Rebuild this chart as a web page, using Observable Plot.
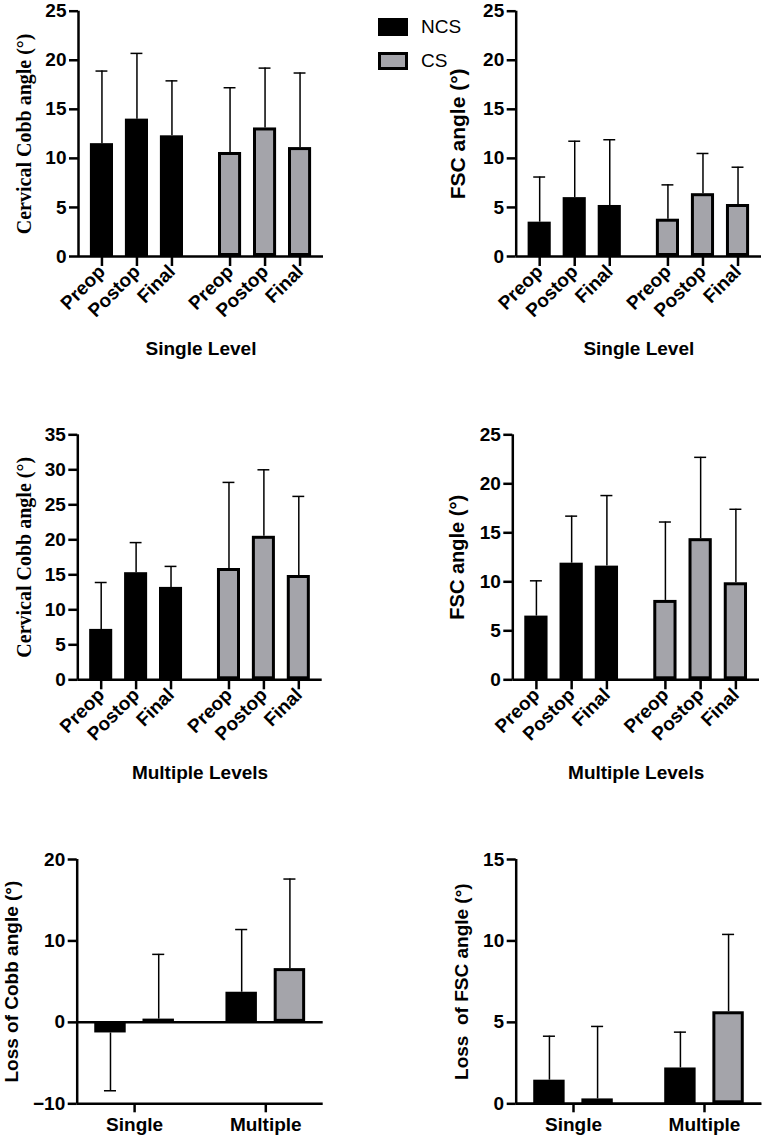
<!DOCTYPE html>
<html><head><meta charset="utf-8">
<script src="https://cdn.jsdelivr.net/npm/d3@7"></script>
<script src="https://cdn.jsdelivr.net/npm/@observablehq/plot@0.6"></script>
<style>
body{margin:0;background:#fff;}
#root{position:relative;width:766px;height:1141px;overflow:hidden;font-family:"Liberation Sans",Arial,sans-serif;}
.panel{position:absolute;}
.sw{position:absolute;box-sizing:border-box;}
.lg{position:absolute;font-size:19px;line-height:20px;color:#000;font-family:"Liberation Sans",Arial,sans-serif;}
</style></head><body><div id="root"></div>
<script>
// ---- data ----
const phases = ["Preop", "Postop", "Final"];
const groups = ["NCS", "CS"];
const levels = ["Single", "Multiple"];

// order: NCS Preop, Postop, Final, CS Preop, Postop, Final
const cobbSingleMean = [11.5, 14.0, 12.3, 10.6, 13.1, 11.1];
const cobbSingleSD   = [7.4, 6.7, 5.6, 6.6, 6.1, 7.6];
const fscSingleMean  = [3.5, 6.0, 5.2, 3.8, 6.4, 5.3];
const fscSingleSD    = [4.6, 5.75, 6.7, 3.5, 4.1, 3.8];
const cobbMultiMean  = [7.2, 15.3, 13.2, 15.9, 20.5, 14.9];
const cobbMultiSD    = [6.7, 4.3, 3.0, 12.3, 9.5, 11.3];
const fscMultiMean   = [6.5, 11.9, 11.6, 8.1, 14.4, 9.9];
const fscMultiSD     = [3.6, 4.8, 7.2, 8.0, 8.3, 7.5];

// loss: per level [Single, Multiple]
const lossCobbNCS = [-1.3, 3.7];
const lossCobbNCSSD = [7.1, 7.7];
const lossCobbCS = [0.4, 6.6];
const lossCobbCSSD = [7.95, 11.0];
const lossFscNCS = [1.45, 2.2];
const lossFscNCSSD = [2.7, 2.2];
const lossFscCS = [0.3, 5.65];
const lossFscCSSD = [4.45, 4.75];

// ---- style ----
const GRAY = "#a4a4aa";
const SANS = "'Liberation Sans', Arial, sans-serif";
const SERIF = "'Liberation Serif', 'Times New Roman', serif";
const AXW = 2.5;
const TFS = 19;

const root = document.getElementById("root");

function place(svg, left, top) {
  const wrap = document.createElement("div");
  wrap.className = "panel";
  wrap.style.left = left + "px";
  wrap.style.top = top + "px";
  wrap.appendChild(svg);
  root.appendChild(wrap);
}

function baseStyle() {
  return {fontFamily: SANS, color: "black", background: "transparent", overflow: "visible"};
}

function groupedPanel(o) {
  const GAP = 0.66, HALF = 0.33, CAP = 0.17;
  const rows = o.means.map((m, k) => {
    const g = Math.floor(k / phases.length), i = k % phases.length;
    return {group: groups[g], phase: phases[i], pos: g * (phases.length + GAP) + i, mean: m, top: m + o.sds[k]};
  });
  const xd = [-0.67, (groups.length - 1) * (phases.length + GAP) + phases.length - 1 + 0.67];
  const ncs = rows.filter(d => d.group === "NCS"), cs = rows.filter(d => d.group === "CS");
  return Plot.plot({
    width: o.width, height: o.height,
    marginLeft: o.ml, marginRight: o.mr, marginTop: o.mt, marginBottom: o.mb,
    style: baseStyle(),
    x: {type: "linear", domain: xd},
    y: {domain: [0, o.yMax]},
    marks: [
      Plot.ruleX(rows, {x: "pos", y1: "mean", y2: "top", strokeWidth: 1.5}),
      Plot.ruleY(rows, {y: "top", x1: d => d.pos - CAP, x2: d => d.pos + CAP, strokeWidth: 1.5}),
      Plot.rect(ncs, {x1: d => d.pos - HALF, x2: d => d.pos + HALF, y1: 0, y2: "mean", fill: "black"}),
      Plot.rect(cs, {x1: d => d.pos - HALF, x2: d => d.pos + HALF, y1: 0, y2: "mean", fill: GRAY, stroke: "black", strokeWidth: 3, inset: 1.5}),
      Plot.ruleY([0], {strokeWidth: AXW}),
      Plot.ruleX([xd[0]], {y1: 0, y2: o.yMax, strokeWidth: AXW}),
      Plot.axisY({ticks: d3.range(0, o.yMax + 0.001, o.step), tickSize: 9, tickPadding: 3, fontSize: TFS, fontWeight: "bold", strokeWidth: AXW, label: null}),
      Plot.axisX({ticks: rows.map(d => d.pos), tickFormat: v => rows.find(r => Math.abs(r.pos - v) < 1e-6).phase,
        tickRotate: -45, tickSize: 10, tickPadding: 2, fontSize: TFS, fontWeight: "bold", strokeWidth: AXW, label: null}),
      Plot.text([o.ylabel], {text: d => d, frameAnchor: "left", rotate: -90, dx: o.ldx, fontSize: o.lfs, fontWeight: "bold",
        fontFamily: o.lfont, textAnchor: "middle", lineAnchor: "middle"}),
      Plot.text([o.title], {text: d => d, frameAnchor: "bottom", dy: o.tdy, fontSize: 19, fontWeight: "bold", lineAnchor: "middle"})
    ]
  });
}

function lossPanel(o) {
  const SPACING = 2.72, HALF = 0.326, CAP = 0.125, PAD = 1.19;
  const rows = [];
  levels.forEach((lv, l) => {
    groups.forEach((g, gi) => {
      const m = gi === 0 ? o.ncs[l] : o.cs[l];
      const sd = gi === 0 ? o.ncsSD[l] : o.csSD[l];
      rows.push({level: lv, group: g, pos: l * SPACING + (gi - 0.5), mean: m, end: m >= 0 ? m + sd : m - sd});
    });
  });
  const xd = [-PAD, (levels.length - 1) * SPACING + PAD];
  const centers = levels.map((_, l) => l * SPACING);
  const ncs = rows.filter(d => d.group === "NCS"), cs = rows.filter(d => d.group === "CS");
  return Plot.plot({
    width: o.width, height: o.height,
    marginLeft: o.ml, marginRight: o.mr, marginTop: o.mt, marginBottom: o.mb,
    style: baseStyle(),
    x: {type: "linear", domain: xd},
    y: {domain: [o.yMin, o.yMax]},
    marks: [
      Plot.ruleX(rows, {x: "pos", y1: "mean", y2: "end", strokeWidth: 1.5}),
      Plot.ruleY(rows, {y: "end", x1: d => d.pos - CAP, x2: d => d.pos + CAP, strokeWidth: 1.5}),
      Plot.rect(ncs, {x1: d => d.pos - HALF, x2: d => d.pos + HALF, y1: 0, y2: "mean", fill: "black"}),
      Plot.rect(cs, {x1: d => d.pos - HALF, x2: d => d.pos + HALF, y1: 0, y2: "mean", fill: GRAY, stroke: "black", strokeWidth: 3, inset: 1.5}),
      Plot.ruleY([0], {strokeWidth: AXW}),
      Plot.ruleY([o.yMin], {strokeWidth: AXW}),
      Plot.ruleX([xd[0]], {y1: o.yMin, y2: o.yMax, strokeWidth: AXW}),
      Plot.axisY({ticks: d3.range(o.yMin, o.yMax + 0.001, o.step), tickSize: 9, tickPadding: 3, fontSize: TFS, fontWeight: "bold", strokeWidth: AXW, label: null}),
      Plot.axisX({ticks: centers, tickFormat: v => levels[centers.findIndex(c => Math.abs(c - v) < 1e-6)],
        tickSize: 9, tickPadding: 5, fontSize: TFS, fontWeight: "bold", strokeWidth: AXW, label: null}),
      Plot.text([o.ylabel], {text: d => d, frameAnchor: "left", rotate: -90, dx: o.ldx, fontSize: o.lfs, fontWeight: "bold",
        fontFamily: SANS, textAnchor: "middle", lineAnchor: "middle"})
    ]
  });
}

place(groupedPanel({means: cobbSingleMean, sds: cobbSingleSD, yMax: 25, step: 5, width: 383, height: 390,
  ml: 78, mr: 60, mt: 10.7, mb: 134, ylabel: "Cervical Cobb angle (°)", lfont: SERIF, lfs: 20, ldx: -54,
  title: "Single Level", tdy: 92}), 0, 0);
place(groupedPanel({means: fscSingleMean, sds: fscSingleSD, yMax: 25, step: 5, width: 383, height: 390,
  ml: 132.7, mr: 5, mt: 10.7, mb: 134, ylabel: "FSC angle (°)", lfont: SANS, lfs: 21, ldx: -58,
  title: "Single Level", tdy: 92}), 383, 0);
place(groupedPanel({means: cobbMultiMean, sds: cobbMultiSD, yMax: 35, step: 5, width: 383, height: 400,
  ml: 77.3, mr: 61.3, mt: 44.3, mb: 110.7, ylabel: "Cervical Cobb angle (°)", lfont: SERIF, lfs: 20, ldx: -53,
  title: "Multiple Levels", tdy: 92.7}), 0, 390);
place(groupedPanel({means: fscMultiMean, sds: fscMultiSD, yMax: 25, step: 5, width: 383, height: 400,
  ml: 129.3, mr: 7, mt: 44.3, mb: 110.7, ylabel: "FSC angle (°)", lfont: SANS, lfs: 20, ldx: -55,
  title: "Multiple Levels", tdy: 92.7}), 383, 390);
place(lossPanel({ncs: lossCobbNCS, ncsSD: lossCobbNCSSD, cs: lossCobbCS, csSD: lossCobbCSSD, yMin: -10, yMax: 20, step: 10,
  width: 383, height: 351, ml: 76.7, mr: 60.3, mt: 69, mb: 37.7, ylabel: "Loss of Cobb angle (°)", lfs: 19, ldx: -65}), 0, 790);
place(lossPanel({ncs: lossFscNCS, ncsSD: lossFscNCSSD, cs: lossFscCS, csSD: lossFscCSSD, yMin: 0, yMax: 15, step: 5,
  width: 383, height: 351, ml: 132.7, mr: 4.7, mt: 69, mb: 37.7, ylabel: "Loss\u00a0 of FSC angle (°)", lfs: 19, ldx: -54}), 383, 790);

// ---- legend ----
function legendItem(name, top, fill, border) {
  const sw = document.createElement("div");
  sw.className = "sw";
  Object.assign(sw.style, {left: "378px", top: top + "px", width: "30px", height: "18px", background: fill,
    border: border ? "3px solid #000" : "none"});
  root.appendChild(sw);
  const t = document.createElement("div");
  t.className = "lg";
  t.textContent = name;
  Object.assign(t.style, {left: "421px", top: (top - 1) + "px"});
  root.appendChild(t);
}
legendItem(groups[0], 18, "#000", false);
legendItem(groups[1], 52, GRAY, true);
</script></body></html>
